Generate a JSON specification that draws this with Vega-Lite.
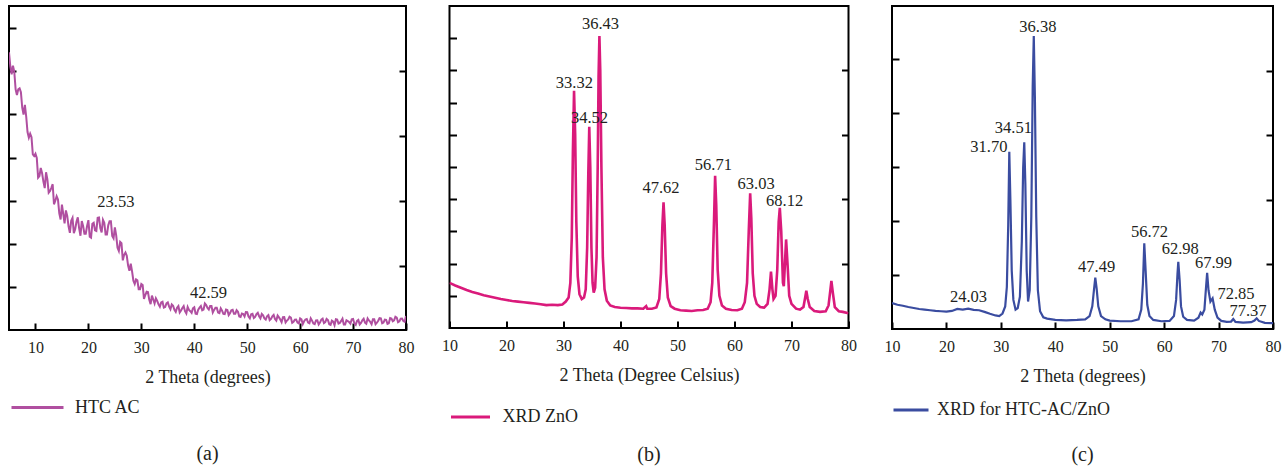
{
  "$schema": "https://vega.github.io/schema/vega-lite/v6.json",
  "background": "white",
  "autosize": {"type": "pad"},
  "padding": {"left": 7, "top": 5, "right": 0, "bottom": 0},
  "config": {
    "view": {"stroke": "black", "strokeWidth": 2},
    "font": "Liberation Serif",
    "axis": {"grid": false, "domain": false, "tickColor": "black", "tickWidth": 2, "tickSize": -7, "labelFont": "Liberation Serif", "labelFontSize": 16, "labelColor": "#231F20", "titleFont": "Liberation Serif", "titleFontSize": 18, "titleFontWeight": "normal", "titleColor": "#231F20", "labelFlush": false, "labelPadding": 16, "titlePadding": 13},
    "legend": {"labelFont": "Liberation Serif", "labelFontSize": 18, "labelColor": "#231F20", "symbolType": "stroke", "symbolStrokeWidth": 3, "title": null, "labelLimit": 400},
    "title": {"font": "Liberation Serif", "fontSize": 20, "fontWeight": "normal", "color": "#231F20"}
  },
  "datasets": {
    "a": [
      {"theta":5.0,"intensity":85.7},{"theta":5.25,"intensity":81.4},{"theta":5.5,"intensity":78.9},{"theta":5.75,"intensity":81.6},{"theta":6.0,"intensity":79.7},{"theta":6.25,"intensity":74.3},{"theta":6.5,"intensity":72.5},{"theta":6.75,"intensity":74.3},{"theta":7.0,"intensity":74.6},{"theta":7.25,"intensity":73.4},
      {"theta":7.5,"intensity":68.6},{"theta":7.75,"intensity":66.5},{"theta":8.0,"intensity":69.5},{"theta":8.25,"intensity":65.9},{"theta":8.5,"intensity":61.1},{"theta":8.75,"intensity":59.4},{"theta":9.0,"intensity":60.6},{"theta":9.25,"intensity":59.5},{"theta":9.5,"intensity":54.2},{"theta":9.75,"intensity":53.7},
      {"theta":10.0,"intensity":54.4},{"theta":10.25,"intensity":53.1},{"theta":10.5,"intensity":47.0},{"theta":10.75,"intensity":47.5},{"theta":11.0,"intensity":50.0},{"theta":11.25,"intensity":48.4},{"theta":11.5,"intensity":45.8},{"theta":11.75,"intensity":43.8},{"theta":12.0,"intensity":48.7},{"theta":12.25,"intensity":46.5},
      {"theta":12.5,"intensity":42.4},{"theta":12.75,"intensity":42.9},{"theta":13.0,"intensity":43.9},{"theta":13.25,"intensity":45.0},{"theta":13.5,"intensity":38.8},{"theta":13.75,"intensity":39.9},{"theta":14.0,"intensity":41.3},{"theta":14.25,"intensity":40.3},{"theta":14.5,"intensity":36.0},{"theta":14.75,"intensity":34.1},
      {"theta":15.0,"intensity":38.7},{"theta":15.25,"intensity":35.8},{"theta":15.5,"intensity":32.9},{"theta":15.75,"intensity":36.9},{"theta":16.0,"intensity":35.2},{"theta":16.25,"intensity":32.0},{"theta":16.5,"intensity":30.0},{"theta":16.75,"intensity":33.7},{"theta":17.0,"intensity":34.6},{"theta":17.25,"intensity":29.9},
      {"theta":17.5,"intensity":31.1},{"theta":17.75,"intensity":33.4},{"theta":18.0,"intensity":34.8},{"theta":18.25,"intensity":31.4},{"theta":18.5,"intensity":29.1},{"theta":18.75,"intensity":33.6},{"theta":19.0,"intensity":32.1},{"theta":19.25,"intensity":29.7},{"theta":19.5,"intensity":29.7},{"theta":19.75,"intensity":32.1},
      {"theta":20.0,"intensity":33.9},{"theta":20.25,"intensity":28.8},{"theta":20.5,"intensity":28.5},{"theta":20.75,"intensity":32.8},{"theta":21.0,"intensity":33.1},{"theta":21.25,"intensity":30.8},{"theta":21.5,"intensity":30.6},{"theta":21.75,"intensity":34.6},{"theta":22.0,"intensity":34.7},{"theta":22.25,"intensity":31.5},
      {"theta":22.5,"intensity":30.1},{"theta":22.75,"intensity":34.0},{"theta":23.0,"intensity":33.1},{"theta":23.25,"intensity":29.5},{"theta":23.5,"intensity":29.5},{"theta":23.75,"intensity":32.3},{"theta":24.0,"intensity":33.6},{"theta":24.25,"intensity":33.6},{"theta":24.5,"intensity":29.0},{"theta":24.75,"intensity":28.3},
      {"theta":25.0,"intensity":31.7},{"theta":25.25,"intensity":29.2},{"theta":25.5,"intensity":25.4},{"theta":25.75,"intensity":24.4},{"theta":26.0,"intensity":27.2},{"theta":26.25,"intensity":26.8},{"theta":26.5,"intensity":21.5},{"theta":26.75,"intensity":23.2},{"theta":27.0,"intensity":23.9},{"theta":27.25,"intensity":22.9},
      {"theta":27.5,"intensity":19.9},{"theta":27.75,"intensity":18.3},{"theta":28.0,"intensity":20.5},{"theta":28.25,"intensity":18.1},{"theta":28.5,"intensity":15.2},{"theta":28.75,"intensity":14.2},{"theta":29.0,"intensity":15.6},{"theta":29.25,"intensity":15.3},{"theta":29.5,"intensity":12.6},{"theta":29.75,"intensity":12.6},
      {"theta":30.0,"intensity":14.2},{"theta":30.25,"intensity":13.9},{"theta":30.5,"intensity":9.6},{"theta":30.75,"intensity":10.8},{"theta":31.0,"intensity":11.8},{"theta":31.25,"intensity":11.7},{"theta":31.5,"intensity":9.3},{"theta":31.75,"intensity":8.0},{"theta":32.0,"intensity":10.6},{"theta":32.25,"intensity":9.4},
      {"theta":32.5,"intensity":8.2},{"theta":32.75,"intensity":9.8},{"theta":33.0,"intensity":9.0},{"theta":33.25,"intensity":7.9},{"theta":33.5,"intensity":7.2},{"theta":33.75,"intensity":8.5},{"theta":34.0,"intensity":8.7},{"theta":34.25,"intensity":6.9},{"theta":34.5,"intensity":7.1},{"theta":34.75,"intensity":8.2},
      {"theta":35.0,"intensity":8.5},{"theta":35.25,"intensity":7.2},{"theta":35.5,"intensity":6.4},{"theta":35.75,"intensity":7.9},{"theta":36.0,"intensity":7.5},{"theta":36.25,"intensity":6.2},{"theta":36.5,"intensity":5.6},{"theta":36.75,"intensity":6.9},{"theta":37.0,"intensity":7.4},{"theta":37.25,"intensity":5.4},
      {"theta":37.5,"intensity":6.0},{"theta":37.75,"intensity":6.8},{"theta":38.0,"intensity":7.4},{"theta":38.25,"intensity":5.8},{"theta":38.5,"intensity":5.1},{"theta":38.75,"intensity":7.1},{"theta":39.0,"intensity":6.2},{"theta":39.25,"intensity":5.8},{"theta":39.5,"intensity":5.3},{"theta":39.75,"intensity":6.7},
      {"theta":40.0,"intensity":7.0},{"theta":40.25,"intensity":5.0},{"theta":40.5,"intensity":4.9},{"theta":40.75,"intensity":6.3},{"theta":41.0,"intensity":6.9},{"theta":41.25,"intensity":7.4},{"theta":41.5,"intensity":6.1},{"theta":41.75,"intensity":6.3},{"theta":42.0,"intensity":8.2},{"theta":42.25,"intensity":7.7},
      {"theta":42.5,"intensity":6.8},{"theta":42.75,"intensity":6.3},{"theta":43.0,"intensity":7.4},{"theta":43.25,"intensity":7.4},{"theta":43.5,"intensity":5.4},{"theta":43.75,"intensity":6.2},{"theta":44.0,"intensity":6.9},{"theta":44.25,"intensity":6.9},{"theta":44.5,"intensity":5.4},{"theta":44.75,"intensity":5.2},
      {"theta":45.0,"intensity":6.7},{"theta":45.25,"intensity":5.95},{"theta":45.5,"intensity":5.0},{"theta":45.75,"intensity":4.9},{"theta":46.0,"intensity":6.3},{"theta":46.25,"intensity":6.15},{"theta":46.5,"intensity":4.6},{"theta":46.75,"intensity":5.2},{"theta":47.0,"intensity":6.1},{"theta":47.25,"intensity":6.25},
      {"theta":47.5,"intensity":5.0},{"theta":47.75,"intensity":5.0},{"theta":48.0,"intensity":6.1},{"theta":48.25,"intensity":5.65},{"theta":48.5,"intensity":4.2},{"theta":48.75,"intensity":4.05},{"theta":49.0,"intensity":5.1},{"theta":49.25,"intensity":4.95},{"theta":49.5,"intensity":4.2},{"theta":49.75,"intensity":5.55},
      {"theta":50.0,"intensity":5.5},{"theta":50.25,"intensity":4.15},{"theta":50.5,"intensity":3.6},{"theta":50.75,"intensity":4.85},{"theta":51.0,"intensity":5.0},{"theta":51.25,"intensity":3.7},{"theta":51.5,"intensity":4.05},{"theta":51.75,"intensity":4.9},{"theta":52.0,"intensity":5.3},{"theta":52.25,"intensity":4.25},
      {"theta":52.5,"intensity":3.6},{"theta":52.75,"intensity":4.95},{"theta":53.0,"intensity":4.5},{"theta":53.25,"intensity":3.55},{"theta":53.5,"intensity":3.2},{"theta":53.75,"intensity":4.25},{"theta":54.0,"intensity":4.6},{"theta":54.25,"intensity":3.05},{"theta":54.5,"intensity":3.4},{"theta":54.75,"intensity":4.2},
      {"theta":55.0,"intensity":4.65},{"theta":55.25,"intensity":3.4},{"theta":55.5,"intensity":2.9},{"theta":55.75,"intensity":4.45},{"theta":56.0,"intensity":3.9},{"theta":56.25,"intensity":3.25},{"theta":56.5,"intensity":2.4},{"theta":56.75,"intensity":3.95},{"theta":57.0,"intensity":4.0},{"theta":57.25,"intensity":2.35},
      {"theta":57.5,"intensity":2.9},{"theta":57.75,"intensity":3.25},{"theta":58.0,"intensity":4.1},{"theta":58.25,"intensity":3.85},{"theta":58.5,"intensity":2.2},{"theta":58.75,"intensity":2.5},{"theta":59.0,"intensity":3.15},{"theta":59.25,"intensity":3.2},{"theta":59.5,"intensity":2.3},{"theta":59.75,"intensity":2.05},
      {"theta":60.0,"intensity":3.6},{"theta":60.25,"intensity":3.3},{"theta":60.5,"intensity":1.8},{"theta":60.75,"intensity":2.7},{"theta":61.0,"intensity":3.25},{"theta":61.25,"intensity":3.4},{"theta":61.5,"intensity":2.3},{"theta":61.75,"intensity":2.1},{"theta":62.0,"intensity":3.6},{"theta":62.25,"intensity":2.9},
      {"theta":62.5,"intensity":2.0},{"theta":62.75,"intensity":1.8},{"theta":63.0,"intensity":2.95},{"theta":63.25,"intensity":3.0},{"theta":63.5,"intensity":1.7},{"theta":63.75,"intensity":2.3},{"theta":64.0,"intensity":3.2},{"theta":64.25,"intensity":3.5},{"theta":64.5,"intensity":2.1},{"theta":64.75,"intensity":2.4},
      {"theta":65.0,"intensity":3.45},{"theta":65.25,"intensity":3.1},{"theta":65.5,"intensity":1.8},{"theta":65.75,"intensity":1.6},{"theta":66.0,"intensity":2.9},{"theta":66.25,"intensity":2.6},{"theta":66.5,"intensity":1.5},{"theta":66.75,"intensity":3.3},{"theta":67.0,"intensity":3.2},{"theta":67.25,"intensity":2.0},
      {"theta":67.5,"intensity":2.2},{"theta":67.75,"intensity":2.8},{"theta":68.0,"intensity":3.5},{"theta":68.25,"intensity":1.7},{"theta":68.5,"intensity":1.7},{"theta":68.75,"intensity":3.0},{"theta":69.0,"intensity":2.75},{"theta":69.25,"intensity":2.45},{"theta":69.5,"intensity":1.95},{"theta":69.75,"intensity":3.3},
      {"theta":70.0,"intensity":3.4},{"theta":70.25,"intensity":2.0},{"theta":70.5,"intensity":1.6},{"theta":70.75,"intensity":2.8},{"theta":71.0,"intensity":3.1},{"theta":71.25,"intensity":1.7},{"theta":71.5,"intensity":2.2},{"theta":71.75,"intensity":3.0},{"theta":72.0,"intensity":3.5},{"theta":72.25,"intensity":2.3},
      {"theta":72.5,"intensity":1.95},{"theta":72.75,"intensity":3.55},{"theta":73.0,"intensity":2.95},{"theta":73.25,"intensity":2.5},{"theta":73.5,"intensity":1.8},{"theta":73.75,"intensity":3.3},{"theta":74.0,"intensity":3.3},{"theta":74.25,"intensity":1.8},{"theta":74.5,"intensity":2.25},{"theta":74.75,"intensity":2.85},
      {"theta":75.0,"intensity":3.65},{"theta":75.25,"intensity":3.6},{"theta":75.5,"intensity":2.1},{"theta":75.75,"intensity":2.3},{"theta":76.0,"intensity":3.2},{"theta":76.25,"intensity":3.15},{"theta":76.5,"intensity":1.9},{"theta":76.75,"intensity":2.1},{"theta":77.0,"intensity":3.65},{"theta":77.25,"intensity":3.5},
      {"theta":77.5,"intensity":2.7},{"theta":77.75,"intensity":2.95},{"theta":78.0,"intensity":4.1},{"theta":78.25,"intensity":3.85},{"theta":78.5,"intensity":2.4},{"theta":78.75,"intensity":2.65},{"theta":79.0,"intensity":3.5},{"theta":79.25,"intensity":3.55},{"theta":79.5,"intensity":2.8},{"theta":79.75,"intensity":2.55},
      {"theta":80.0,"intensity":4.3}
    ],
    "la": [
      {"theta":25.2,"intensity":39.5,"label":"23.53"},
      {"theta":42.7,"intensity":11.3,"label":"42.59"}
    ],
    "b": [
      {"theta":10,"intensity":14},{"theta":11,"intensity":13.2},{"theta":12,"intensity":12.5},{"theta":13,"intensity":11.8},{"theta":14,"intensity":11.2},{"theta":15,"intensity":10.7},{"theta":16,"intensity":10.2},{"theta":17,"intensity":9.8},{"theta":18,"intensity":9.4},{"theta":19,"intensity":9.0},
      {"theta":20,"intensity":8.7},{"theta":21,"intensity":8.4},{"theta":22,"intensity":8.2},{"theta":23,"intensity":8.0},{"theta":24,"intensity":7.8},{"theta":25,"intensity":7.6},{"theta":26,"intensity":7.4},{"theta":27,"intensity":7.1},{"theta":28,"intensity":7.2},{"theta":29,"intensity":7.1},
      {"theta":29.8,"intensity":7.3},{"theta":30.4,"intensity":8.2},{"theta":30.9,"intensity":9.5},{"theta":31.2,"intensity":14},{"theta":31.45,"intensity":28},{"theta":31.65,"intensity":55},{"theta":31.85,"intensity":73.7},{"theta":32.05,"intensity":60},{"theta":32.25,"intensity":33},{"theta":32.5,"intensity":16},
      {"theta":32.8,"intensity":10.5},{"theta":33.2,"intensity":9},{"theta":33.6,"intensity":9.5},{"theta":33.9,"intensity":12},{"theta":34.15,"intensity":25},{"theta":34.35,"intensity":48},{"theta":34.52,"intensity":62.5},{"theta":34.7,"intensity":50},{"theta":34.9,"intensity":25},{"theta":35.1,"intensity":14},
      {"theta":35.3,"intensity":11},{"theta":35.55,"intensity":12.5},{"theta":35.8,"intensity":22},{"theta":36.0,"intensity":50},{"theta":36.15,"intensity":78},{"theta":36.3,"intensity":90.7},{"theta":36.45,"intensity":80},{"theta":36.65,"intensity":50},{"theta":36.9,"intensity":22},{"theta":37.2,"intensity":12},
      {"theta":37.6,"intensity":8.5},{"theta":38.2,"intensity":7},{"theta":39,"intensity":6.5},{"theta":40,"intensity":6.3},{"theta":41,"intensity":6.2},{"theta":42,"intensity":6.1},{"theta":43,"intensity":6.1},{"theta":44,"intensity":6.0},{"theta":44.5,"intensity":6.8},{"theta":44.7,"intensity":6.0},
      {"theta":45.5,"intensity":6.0},{"theta":46.3,"intensity":6.4},{"theta":46.8,"intensity":9},{"theta":47.1,"intensity":17},{"theta":47.35,"intensity":32},{"theta":47.55,"intensity":39},{"theta":47.75,"intensity":32},{"theta":48.0,"intensity":17},{"theta":48.3,"intensity":9.5},{"theta":48.8,"intensity":6.8},
      {"theta":49.5,"intensity":6},{"theta":50.5,"intensity":5.5},{"theta":51.5,"intensity":5.4},{"theta":52.5,"intensity":5.3},{"theta":53.5,"intensity":5.5},{"theta":54.5,"intensity":5.6},{"theta":55.3,"intensity":6},{"theta":55.8,"intensity":8},{"theta":56.1,"intensity":14},{"theta":56.4,"intensity":33},
      {"theta":56.6,"intensity":47.3},{"theta":56.8,"intensity":38},{"theta":57.05,"intensity":18},{"theta":57.35,"intensity":10},{"theta":57.8,"intensity":7},{"theta":58.5,"intensity":6},{"theta":59.5,"intensity":5.6},{"theta":60.5,"intensity":5.5},{"theta":61.3,"intensity":6},{"theta":61.8,"intensity":8},
      {"theta":62.2,"intensity":14},{"theta":62.5,"intensity":30},{"theta":62.75,"intensity":41.8},{"theta":62.95,"intensity":34},{"theta":63.2,"intensity":17},{"theta":63.5,"intensity":10},{"theta":63.9,"intensity":7.5},{"theta":64.5,"intensity":6.5},{"theta":65.2,"intensity":6.3},{"theta":65.8,"intensity":7.5},
      {"theta":66.15,"intensity":12},{"theta":66.4,"intensity":17.5},{"theta":66.65,"intensity":12},{"theta":66.85,"intensity":9},{"theta":67.2,"intensity":10},{"theta":67.5,"intensity":18},{"theta":67.75,"intensity":33},{"theta":67.95,"intensity":37.3},{"theta":68.2,"intensity":30},{"theta":68.5,"intensity":14},
      {"theta":68.65,"intensity":13},{"theta":68.85,"intensity":20},{"theta":69.05,"intensity":27.5},{"theta":69.3,"intensity":20},{"theta":69.6,"intensity":10},{"theta":70.0,"intensity":7.5},{"theta":70.8,"intensity":6},{"theta":71.5,"intensity":5.7},{"theta":72.1,"intensity":6.5},{"theta":72.4,"intensity":9.5},
      {"theta":72.6,"intensity":11.6},{"theta":72.85,"intensity":9},{"theta":73.2,"intensity":6.5},{"theta":74,"intensity":5.3},{"theta":75,"intensity":5.0},{"theta":76,"intensity":5.2},{"theta":76.5,"intensity":7},{"theta":76.8,"intensity":11.5},{"theta":77.0,"intensity":14.6},{"theta":77.25,"intensity":11},
      {"theta":77.6,"intensity":6.5},{"theta":78.3,"intensity":5.2},{"theta":79,"intensity":5.0},{"theta":80,"intensity":4.6}
    ],
    "lb": [
      {"theta":31.9,"intensity":76.1,"label":"33.32"},
      {"theta":34.56,"intensity":65.2,"label":"34.52"},
      {"theta":36.5,"intensity":94.4,"label":"36.43"},
      {"theta":47.1,"intensity":43.5,"label":"47.62"},
      {"theta":56.3,"intensity":50.6,"label":"56.71"},
      {"theta":63.8,"intensity":44.7,"label":"63.03"},
      {"theta":68.8,"intensity":39.5,"label":"68.12"}
    ],
    "c": [
      {"theta":10,"intensity":8},{"theta":11,"intensity":7.5},{"theta":12,"intensity":7.2},{"theta":13,"intensity":6.8},{"theta":14,"intensity":6.5},{"theta":15,"intensity":6.2},{"theta":16,"intensity":6.0},{"theta":17,"intensity":5.8},{"theta":18,"intensity":5.6},{"theta":19,"intensity":5.5},
      {"theta":20,"intensity":5.4},{"theta":21,"intensity":5.6},{"theta":22,"intensity":6.2},{"theta":23,"intensity":6.0},{"theta":24,"intensity":6.3},{"theta":25,"intensity":5.9},{"theta":26,"intensity":5.8},{"theta":27,"intensity":5.3},{"theta":28,"intensity":4.7},{"theta":29,"intensity":4.2},
      {"theta":29.7,"intensity":4.0},{"theta":30.3,"intensity":4.8},{"theta":30.8,"intensity":7},{"theta":31.1,"intensity":13},{"theta":31.35,"intensity":32},{"theta":31.55,"intensity":54.9},{"theta":31.75,"intensity":40},{"theta":32.0,"intensity":18},{"theta":32.3,"intensity":9},{"theta":32.7,"intensity":6},
      {"theta":33.1,"intensity":6.5},{"theta":33.5,"intensity":10},{"theta":33.85,"intensity":27},{"theta":34.1,"intensity":50},{"theta":34.3,"intensity":57.8},{"theta":34.5,"intensity":45},{"theta":34.75,"intensity":18},{"theta":35.0,"intensity":8.5},{"theta":35.3,"intensity":12},{"theta":35.6,"intensity":35},
      {"theta":35.85,"intensity":75},{"theta":36.05,"intensity":90.7},{"theta":36.25,"intensity":72},{"theta":36.5,"intensity":35},{"theta":36.8,"intensity":12},{"theta":37.2,"intensity":5.5},{"theta":37.8,"intensity":3.6},{"theta":38.5,"intensity":3.2},{"theta":40,"intensity":2.8},{"theta":42,"intensity":2.7},
      {"theta":44,"intensity":2.8},{"theta":45.5,"intensity":3.0},{"theta":46.3,"intensity":4},{"theta":46.8,"intensity":7},{"theta":47.1,"intensity":12},{"theta":47.35,"intensity":15.9},{"theta":47.6,"intensity":12.5},{"theta":47.9,"intensity":7},{"theta":48.4,"intensity":4},{"theta":49.2,"intensity":3},
      {"theta":50,"intensity":2.6},{"theta":52,"intensity":2.4},{"theta":54,"intensity":2.4},{"theta":55.3,"intensity":3},{"theta":55.8,"intensity":6},{"theta":56.1,"intensity":14},{"theta":56.35,"intensity":26.5},{"theta":56.6,"intensity":18},{"theta":56.9,"intensity":7.5},{"theta":57.3,"intensity":4},
      {"theta":58,"intensity":2.8},{"theta":59.5,"intensity":2.4},{"theta":61,"intensity":2.5},{"theta":61.8,"intensity":4},{"theta":62.2,"intensity":9},{"theta":62.45,"intensity":17},{"theta":62.6,"intensity":20.8},{"theta":62.85,"intensity":15},{"theta":63.1,"intensity":7},{"theta":63.5,"intensity":3.8},
      {"theta":64.2,"intensity":2.8},{"theta":65.5,"intensity":2.6},{"theta":66.3,"intensity":3.5},{"theta":66.7,"intensity":5.1},{"theta":67.0,"intensity":4.5},{"theta":67.4,"intensity":6},{"theta":67.7,"intensity":13},{"theta":67.9,"intensity":17.4},{"theta":68.15,"intensity":12},{"theta":68.5,"intensity":8.5},
      {"theta":68.9,"intensity":9.5},{"theta":69.3,"intensity":6},{"theta":69.8,"intensity":3.5},{"theta":70.5,"intensity":2.5},{"theta":71.5,"intensity":2.2},{"theta":72.3,"intensity":2.3},{"theta":72.7,"intensity":3.1},{"theta":73.1,"intensity":2.2},{"theta":74.5,"intensity":2.0},{"theta":76,"intensity":2.1},
      {"theta":76.6,"intensity":2.6},{"theta":77.0,"intensity":3.3},{"theta":77.4,"intensity":2.5},{"theta":78.5,"intensity":1.9},{"theta":80,"intensity":1.8}
    ],
    "lc": [
      {"theta":36.8,"intensity":93.4,"label":"36.38"},
      {"theta":32.3,"intensity":62.1,"label":"34.51"},
      {"theta":27.8,"intensity":56.4,"label":"31.70"},
      {"theta":24.05,"intensity":10,"label":"24.03"},
      {"theta":47.6,"intensity":19.3,"label":"47.49"},
      {"theta":57.3,"intensity":29.9,"label":"56.72"},
      {"theta":62.96,"intensity":24.7,"label":"62.98"},
      {"theta":69.06,"intensity":20.5,"label":"67.99"},
      {"theta":73.2,"intensity":10.8,"label":"72.85"},
      {"theta":75.4,"intensity":5.7,"label":"77.37"}
    ]
  },
  "hconcat": [
    {
      "width": 397, "height": 324,
      "title": {"text": "(a)", "orient": "bottom", "anchor": "middle", "offset": 26.5},
      "layer": [
        {
          "data": {"name": "a"},
          "mark": {"type": "line", "strokeWidth": 2, "clip": true},
          "encoding": {
            "x": {"field": "theta", "type": "quantitative", "scale": {"domain": [5, 80], "nice": false, "zero": false}, "axis": {"values": [10,20,30,40,50,60,70,80], "title": "2 Theta (degrees)"}},
            "y": {"field": "intensity", "type": "quantitative", "scale": {"domain": [0, 100], "nice": false}, "axis": {"orient": "left", "values": [13.3,26.6,39.9,53.2,66.6,79.8,93.2], "labels": false, "title": null}},
            "color": {"datum": "HTC AC", "type": "nominal", "scale": {"range": ["#B04FA0"]}, "legend": {"orient": "none", "legendX": 1, "legendY": 374, "symbolSize": 2704, "labelOffset": 10}}
          }
        },
        {
          "data": {"name": "la"},
          "mark": {"type": "text", "fontSize": 16.5, "color": "#231F20", "align": "center", "baseline": "middle"},
          "encoding": {
            "x": {"field": "theta", "type": "quantitative"},
            "y": {"field": "intensity", "type": "quantitative", "axis": {"orient": "right", "values": [19.8,39.9,59.9,79.8], "labels": false, "title": null}},
            "text": {"field": "label"}
          }
        }
      ],
      "resolve": {"axis": {"y": "independent"}}
    },
    {
      "width": 399, "height": 322,
      "title": {"text": "(b)", "orient": "bottom", "anchor": "middle", "offset": 18.5},
      "layer": [
        {
          "data": {"name": "b"},
          "mark": {"type": "line", "strokeWidth": 2.6, "clip": true},
          "encoding": {
            "x": {"field": "theta", "type": "quantitative", "scale": {"domain": [10, 80], "nice": false, "zero": false}, "axis": {"values": [10,20,30,40,50,60,70,80], "title": "2 Theta (Degree Celsius)"}},
            "y": {"field": "intensity", "type": "quantitative", "scale": {"domain": [0, 100], "nice": false}, "axis": {"orient": "left", "values": [10,20,30,40,50,60,70,80,90], "labels": false, "title": null}},
            "color": {"datum": "XRD ZnO", "type": "nominal", "scale": {"range": ["#DA1A7B"]}, "legend": {"orient": "none", "legendX": 0, "legendY": 390, "symbolSize": 1521, "labelOffset": 11}}
          }
        },
        {
          "data": {"name": "lb"},
          "mark": {"type": "text", "fontSize": 16.5, "color": "#231F20", "align": "center", "baseline": "middle"},
          "encoding": {
            "x": {"field": "theta", "type": "quantitative"},
            "y": {"field": "intensity", "type": "quantitative", "axis": {"orient": "right", "values": [20,40,60,80], "labels": false, "title": null}},
            "text": {"field": "label"}
          }
        }
      ],
      "resolve": {"axis": {"y": "independent"}}
    },
    {
      "width": 381, "height": 323,
      "title": {"text": "(c)", "orient": "bottom", "anchor": "middle", "offset": 25.5},
      "layer": [
        {
          "data": {"name": "c"},
          "mark": {"type": "line", "strokeWidth": 2.2, "clip": true},
          "encoding": {
            "x": {"field": "theta", "type": "quantitative", "scale": {"domain": [10, 80], "nice": false, "zero": false}, "axis": {"values": [10,20,30,40,50,60,70,80], "title": "2 Theta (degrees)"}},
            "y": {"field": "intensity", "type": "quantitative", "scale": {"domain": [0, 100], "nice": false}, "axis": {"orient": "left", "values": [16.7,33.4,50.1,66.8,83.5], "labels": false, "title": null}},
            "color": {"datum": "XRD for HTC-AC/ZnO", "type": "nominal", "scale": {"range": ["#3A4CA0"]}, "legend": {"orient": "none", "legendX": 0, "legendY": 385, "symbolSize": 1225, "labelOffset": 7}}
          }
        },
        {
          "data": {"name": "lc"},
          "mark": {"type": "text", "fontSize": 16.5, "color": "#231F20", "align": "center", "baseline": "middle"},
          "encoding": {
            "x": {"field": "theta", "type": "quantitative"},
            "y": {"field": "intensity", "type": "quantitative", "axis": {"orient": "right", "values": [20,40,60,80], "labels": false, "title": null}},
            "text": {"field": "label"}
          }
        }
      ],
      "resolve": {"axis": {"y": "independent"}}
    }
  ],
  "spacing": 43.5,
  "bounds": "flush",
  "resolve": {"scale": {"x": "independent", "y": "independent", "color": "independent"}, "legend": {"color": "independent"}}
}
